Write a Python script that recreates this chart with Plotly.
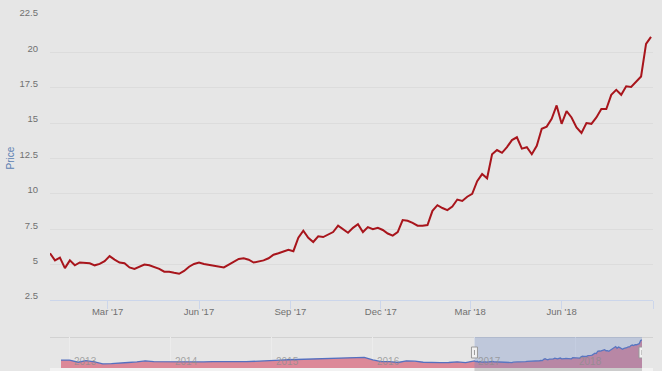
import pandas as pd
import plotly.graph_objects as go

# ---------------- data ----------------
# main series: sampled every 5 days starting 2017-01-02
price_start = "2017-01-02"
price = [
    5.8, 5.3, 5.5, 4.75, 5.3, 4.95, 5.15, 5.1, 5.1, 4.95,
    5.05, 5.25, 5.6, 5.35, 5.15, 5.1, 4.8, 4.7, 4.85, 5.0,
    4.95, 4.85, 4.7, 4.5, 4.5, 4.42, 4.35, 4.55, 4.85, 5.05,
    5.15, 5.05, 5.0, 4.95, 4.9, 4.8, 5.0, 5.2, 5.4, 5.45,
    5.35, 5.15, 5.2, 5.3, 5.45, 5.7, 5.8, 5.9, 6.05, 5.95,
    6.9, 7.4, 6.9, 6.6, 7.0, 6.95, 7.1, 7.3, 7.75, 7.5,
    7.25, 7.6, 7.85, 7.3, 7.65, 7.5, 7.6, 7.45, 7.2, 7.05,
    7.3, 8.15, 8.1, 7.95, 7.75, 7.75, 7.8, 8.8, 9.2, 9.0,
    8.85, 9.1, 9.6, 9.5, 9.8, 10.0, 10.9, 11.4, 11.1, 12.8,
    13.1, 12.9, 13.3, 13.8, 14.0, 13.2, 13.3, 12.8, 13.4, 14.6,
    14.75, 15.3, 16.25, 14.95, 15.85, 15.4, 14.7, 14.3, 15.0, 14.95,
    15.4, 16.0, 16.0, 17.0, 17.35, 17.0, 17.6, 17.55, 17.95, 18.3,
    20.6, 21.1,
]

# longer history shown only in the navigator (monthly, from 2012-12)
hist_start = "2012-12-01"
hist = [
    6.4, 6.4, 4.8, 5.9, 5.0, 3.6, 3.8, 4.4, 4.6, 5.0, 5.8, 5.3, 5.2,
    5.3, 5.4, 5.3, 5.1, 5.0, 5.3, 5.4, 5.6, 5.3, 5.2, 5.6, 6.0,
    6.4, 6.3, 6.6, 6.8, 7.0, 7.2, 7.6, 7.8, 8.3, 8.4, 8.3, 8.4,
    6.5, 5.2, 5.3, 4.6, 5.8, 5.6, 4.8, 4.4, 4.5, 4.6, 5.1, 4.5,
]

y_ticks = [2.5, 5, 7.5, 10, 12.5, 15, 17.5, 20, 22.5]
nav_years = ["2013", "2014", "2015", "2016", "2017", "2018"]

price_dates = pd.date_range(price_start, periods=len(price), freq="5D")
hist_dates = pd.date_range(hist_start, periods=len(hist), freq="MS")
nav_dates = list(hist_dates) + list(price_dates)
nav_vals = hist + price

# ---------------- layout helpers ----------------
W, H = 662, 371
def py(px):  # pixel row -> paper y
    return (H - px) / H

BG = "#e6e6e6"
FONT = "Liberation Sans"

fig = go.Figure()
fig.add_trace(go.Scatter(
    x=price_dates, y=price, mode="lines",
    line=dict(color="#a8151c", width=2),
    xaxis="x", yaxis="y", hoverinfo="skip", showlegend=False,
))
fig.add_trace(go.Scatter(
    x=nav_dates, y=nav_vals, mode="lines", fill="tozeroy",
    fillcolor="#dc8898", line=dict(color="#5470c0", width=1.3),
    xaxis="x2", yaxis="y2", hoverinfo="skip", showlegend=False,
))

sel0, sel1 = price_dates[0], price_dates[-1]
shapes = [
    dict(type="line", xref="paper", yref="paper", x0=0, x1=1, y0=py(337.5), y1=py(337.5),
         line=dict(color="#d2d2d2", width=1), layer="below"),
    dict(type="rect", xref="paper", yref="paper", x0=0, x1=1, y0=0, y1=py(368),
         fillcolor="#f2f2f2", line=dict(width=0)),
    dict(type="rect", xref="x2", yref="paper", x0=sel0, x1=sel1, y0=0, y1=py(368),
         fillcolor="#cccccc", line=dict(width=0)),
    dict(type="rect", xref="x2", yref="paper", x0=sel0, x1=sel1, y0=py(368), y1=py(337),
         fillcolor="rgba(102,133,194,0.3)", line=dict(width=0), layer="above"),
]
for d in (sel0, sel1):
    shapes.append(dict(type="rect", xref="x2", yref="paper", xsizemode="pixel", xanchor=d,
                       x0=-3, x1=3, y0=py(358), y1=py(347),
                       fillcolor="#f2f2f2", line=dict(color="#999999", width=1), layer="above"))
    shapes.append(dict(type="line", xref="x2", yref="paper", xsizemode="pixel", xanchor=d,
                       x0=0, x1=0, y0=py(355), y1=py(350),
                       line=dict(color="#999999", width=1), layer="above"))

annotations = [
    dict(text="Price", xref="paper", yref="paper", x=(10 - 50) / 603, y=py(158.5),
         textangle=-90, showarrow=False, xanchor="center", yanchor="middle",
         font=dict(family=FONT, size=10, color="#5b7fb2")),
]
for yr in nav_years:
    annotations.append(dict(text=yr, xref="x2", yref="paper", x=f"{yr}-01-01", y=py(361.5),
                            xanchor="left", yanchor="middle", xshift=2, showarrow=False,
                            font=dict(family=FONT, size=10, color="rgba(140,140,140,0.75)")))

fig.update_layout(
    width=W, height=H,
    margin=dict(l=50, r=9, t=0, b=0),
    paper_bgcolor=BG, plot_bgcolor=BG,
    font=dict(family=FONT, size=9, color="#707070"),
    showlegend=False,
    xaxis=dict(
        domain=[0, 1], anchor="y", type="date",
        range=["2017-01-02", "2018-09-01"],
        tick0="2017-03-01", dtick="M3", tickformat="%b '%y",
        ticks="outside", ticklen=8, tickcolor="#ccd6eb", tickwidth=1,
        ticklabelstandoff=-5,
        showline=True, linecolor="#ccd6eb", linewidth=1,
        showgrid=False, zeroline=False, automargin=False,
        tickfont=dict(family=FONT, size=9.5, color="#707070"),
    ),
    yaxis=dict(
        domain=[py(300), py(17)], anchor="x",
        range=[2.5, 22.5], tickvals=y_ticks,
        showgrid=True, gridcolor="#dcdcdc", gridwidth=1, zeroline=False,
        ticks="", ticklabelstandoff=11, ticklabelshift=-4, automargin=False,
        tickfont=dict(family=FONT, size=9.5, color="#707070"),
    ),
    xaxis2=dict(
        domain=[(61 - 50) / 603, (642 - 50) / 603], anchor="y2", type="date",
        range=[nav_dates[0], nav_dates[-1]],
        tick0="2013-01-01", dtick="M12",
        showgrid=True, gridcolor="#ececec", showticklabels=False,
        ticks="", showline=False, zeroline=False, automargin=False,
    ),
    yaxis2=dict(
        domain=[py(368), py(337)], anchor="x2",
        range=[0.6, 23.2], showgrid=False, showticklabels=False,
        ticks="", zeroline=False, showline=False, automargin=False,
    ),
    shapes=shapes,
    annotations=annotations,
)

fig.write_html(
    "out.html",
    config={"displayModeBar": False},
    post_script="document.body.style.margin='0';document.body.style.overflow='hidden';",
)
